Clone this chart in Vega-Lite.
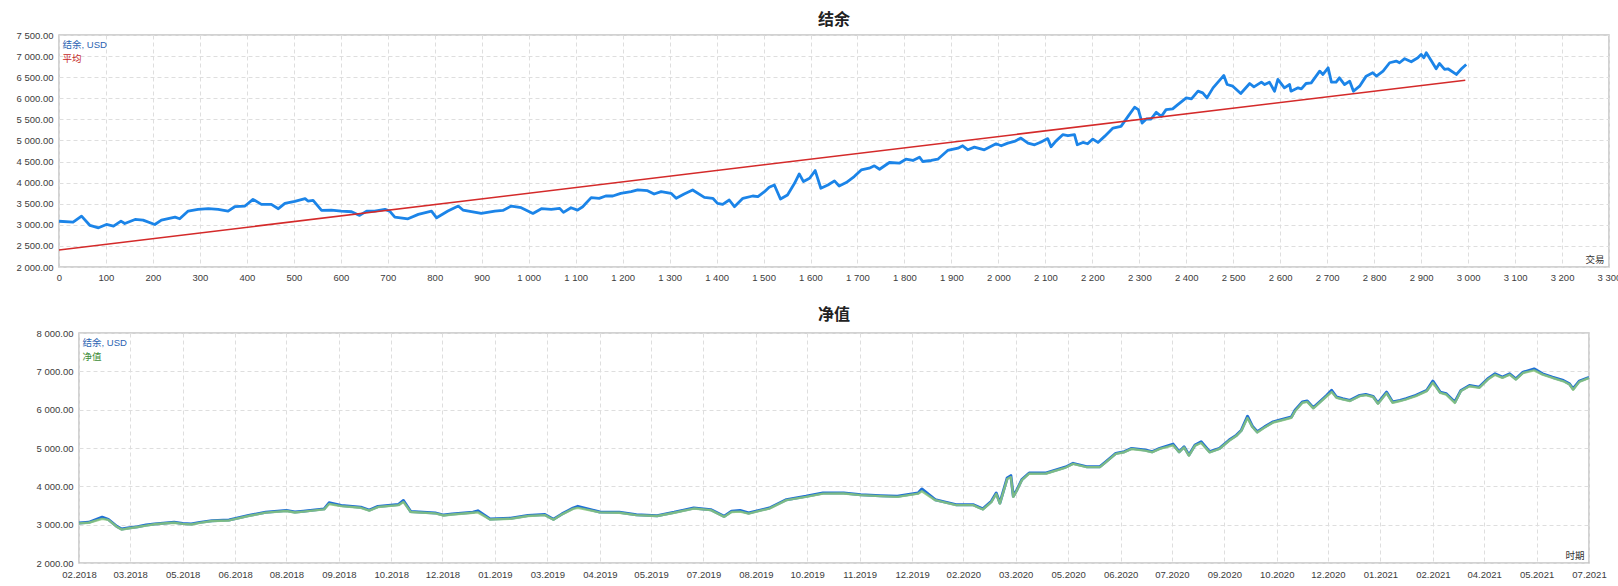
{
  "$schema": "https://vega.github.io/schema/vega-lite/v6.json",
  "padding": {"left": 15, "top": 11, "right": 0, "bottom": 0},
  "bounds": "flush",
  "center": true,
  "spacing": 66,
  "background": "white",
  "datasets": {
    "balance": [
      {"n": 0, "v": 3085}, {"n": 30, "v": 3064}, {"n": 48, "v": 3207}, {"n": 66, "v": 2985}, {"n": 84, "v": 2929},
      {"n": 101, "v": 3008}, {"n": 116, "v": 2969}, {"n": 132, "v": 3088}, {"n": 140, "v": 3032}, {"n": 162, "v": 3127},
      {"n": 179, "v": 3111}, {"n": 204, "v": 3008}, {"n": 218, "v": 3111}, {"n": 247, "v": 3183}, {"n": 257, "v": 3143},
      {"n": 275, "v": 3326}, {"n": 296, "v": 3366}, {"n": 318, "v": 3382}, {"n": 339, "v": 3366}, {"n": 360, "v": 3326},
      {"n": 374, "v": 3429}, {"n": 396, "v": 3445}, {"n": 413, "v": 3604}, {"n": 431, "v": 3485}, {"n": 452, "v": 3485},
      {"n": 467, "v": 3382}, {"n": 481, "v": 3509}, {"n": 502, "v": 3556}, {"n": 524, "v": 3620}, {"n": 530, "v": 3564},
      {"n": 541, "v": 3580}, {"n": 559, "v": 3342}, {"n": 580, "v": 3350}, {"n": 601, "v": 3326}, {"n": 623, "v": 3310},
      {"n": 640, "v": 3223}, {"n": 655, "v": 3326}, {"n": 672, "v": 3326}, {"n": 694, "v": 3366}, {"n": 704, "v": 3326},
      {"n": 715, "v": 3183}, {"n": 743, "v": 3143}, {"n": 765, "v": 3247}, {"n": 793, "v": 3326}, {"n": 804, "v": 3167},
      {"n": 828, "v": 3326}, {"n": 850, "v": 3445}, {"n": 860, "v": 3350}, {"n": 899, "v": 3270}, {"n": 928, "v": 3326},
      {"n": 945, "v": 3342}, {"n": 963, "v": 3445}, {"n": 984, "v": 3405}, {"n": 1009, "v": 3270}, {"n": 1027, "v": 3382},
      {"n": 1048, "v": 3366}, {"n": 1066, "v": 3390}, {"n": 1074, "v": 3294}, {"n": 1090, "v": 3405}, {"n": 1104, "v": 3350},
      {"n": 1115, "v": 3429}, {"n": 1133, "v": 3644}, {"n": 1150, "v": 3628}, {"n": 1164, "v": 3683}, {"n": 1179, "v": 3683},
      {"n": 1196, "v": 3747}, {"n": 1218, "v": 3786}, {"n": 1232, "v": 3826}, {"n": 1253, "v": 3810}, {"n": 1267, "v": 3731},
      {"n": 1282, "v": 3786}, {"n": 1303, "v": 3747}, {"n": 1314, "v": 3628}, {"n": 1331, "v": 3731}, {"n": 1349, "v": 3826},
      {"n": 1374, "v": 3652}, {"n": 1392, "v": 3628}, {"n": 1402, "v": 3509}, {"n": 1413, "v": 3485}, {"n": 1427, "v": 3588},
      {"n": 1438, "v": 3429}, {"n": 1456, "v": 3628}, {"n": 1477, "v": 3683}, {"n": 1488, "v": 3667}, {"n": 1502, "v": 3786},
      {"n": 1512, "v": 3890}, {"n": 1523, "v": 3945}, {"n": 1536, "v": 3612}, {"n": 1551, "v": 3707}, {"n": 1566, "v": 3985},
      {"n": 1576, "v": 4207}, {"n": 1585, "v": 4025}, {"n": 1598, "v": 4104}, {"n": 1610, "v": 4286}, {"n": 1622, "v": 3866},
      {"n": 1637, "v": 3945}, {"n": 1651, "v": 4041}, {"n": 1661, "v": 3921}, {"n": 1676, "v": 4001}, {"n": 1693, "v": 4144},
      {"n": 1708, "v": 4302}, {"n": 1725, "v": 4342}, {"n": 1736, "v": 4398}, {"n": 1747, "v": 4318}, {"n": 1768, "v": 4477},
      {"n": 1789, "v": 4461}, {"n": 1803, "v": 4556}, {"n": 1818, "v": 4525}, {"n": 1832, "v": 4604}, {"n": 1839, "v": 4501},
      {"n": 1857, "v": 4525}, {"n": 1871, "v": 4556}, {"n": 1892, "v": 4763}, {"n": 1914, "v": 4818}, {"n": 1924, "v": 4874},
      {"n": 1935, "v": 4779}, {"n": 1949, "v": 4842}, {"n": 1970, "v": 4779}, {"n": 1995, "v": 4921}, {"n": 2006, "v": 4874},
      {"n": 2020, "v": 4937}, {"n": 2034, "v": 4977}, {"n": 2048, "v": 5056}, {"n": 2063, "v": 4937}, {"n": 2077, "v": 4897},
      {"n": 2091, "v": 4965}, {"n": 2105, "v": 5044}, {"n": 2112, "v": 4850}, {"n": 2123, "v": 4990}, {"n": 2137, "v": 5136},
      {"n": 2148, "v": 5112}, {"n": 2162, "v": 5136}, {"n": 2168, "v": 4898}, {"n": 2180, "v": 4953}, {"n": 2190, "v": 4922},
      {"n": 2201, "v": 5033}, {"n": 2212, "v": 4953}, {"n": 2226, "v": 5096}, {"n": 2244, "v": 5295}, {"n": 2261, "v": 5334},
      {"n": 2276, "v": 5572}, {"n": 2290, "v": 5787}, {"n": 2298, "v": 5731}, {"n": 2306, "v": 5413}, {"n": 2315, "v": 5509},
      {"n": 2325, "v": 5509}, {"n": 2336, "v": 5668}, {"n": 2347, "v": 5572}, {"n": 2357, "v": 5731}, {"n": 2371, "v": 5747},
      {"n": 2382, "v": 5850}, {"n": 2400, "v": 6009}, {"n": 2411, "v": 5985}, {"n": 2425, "v": 6168}, {"n": 2435, "v": 6128},
      {"n": 2444, "v": 6009}, {"n": 2457, "v": 6247}, {"n": 2480, "v": 6541}, {"n": 2487, "v": 6326}, {"n": 2499, "v": 6287},
      {"n": 2516, "v": 6112}, {"n": 2535, "v": 6350}, {"n": 2544, "v": 6271}, {"n": 2560, "v": 6382}, {"n": 2567, "v": 6326},
      {"n": 2577, "v": 6382}, {"n": 2588, "v": 6168}, {"n": 2595, "v": 6446}, {"n": 2609, "v": 6247}, {"n": 2620, "v": 6326},
      {"n": 2623, "v": 6168}, {"n": 2638, "v": 6247}, {"n": 2645, "v": 6223}, {"n": 2655, "v": 6350}, {"n": 2666, "v": 6366},
      {"n": 2684, "v": 6644}, {"n": 2691, "v": 6565}, {"n": 2702, "v": 6723}, {"n": 2709, "v": 6382}, {"n": 2719, "v": 6382},
      {"n": 2726, "v": 6485}, {"n": 2737, "v": 6326}, {"n": 2748, "v": 6406}, {"n": 2756, "v": 6168}, {"n": 2769, "v": 6287},
      {"n": 2783, "v": 6525}, {"n": 2797, "v": 6604}, {"n": 2805, "v": 6525}, {"n": 2819, "v": 6644}, {"n": 2833, "v": 6842},
      {"n": 2847, "v": 6882}, {"n": 2854, "v": 6842}, {"n": 2865, "v": 6938}, {"n": 2879, "v": 6866}, {"n": 2893, "v": 6961},
      {"n": 2900, "v": 7041}, {"n": 2906, "v": 6961}, {"n": 2911, "v": 7080}, {"n": 2922, "v": 6882}, {"n": 2932, "v": 6699},
      {"n": 2939, "v": 6826}, {"n": 2950, "v": 6683}, {"n": 2957, "v": 6699}, {"n": 2975, "v": 6565}, {"n": 2986, "v": 6699},
      {"n": 2996, "v": 6803}
    ],
    "average": [
      {"n": 0, "v": 2405}, {"n": 2994, "v": 6430}
    ],
    "equity": [
      {"d": "2018-02-12", "b": 3044, "e": 3035}, {"d": "2018-02-20", "b": 3061, "e": 3050},
      {"d": "2018-03-03", "b": 3193, "e": 3150}, {"d": "2018-03-08", "b": 3140, "e": 3125},
      {"d": "2018-03-15", "b": 2956, "e": 2945}, {"d": "2018-03-19", "b": 2886, "e": 2870},
      {"d": "2018-03-24", "b": 2912, "e": 2900}, {"d": "2018-04-01", "b": 2947, "e": 2940},
      {"d": "2018-04-08", "b": 2990, "e": 2975}, {"d": "2018-04-15", "b": 3018, "e": 3010},
      {"d": "2018-04-22", "b": 3040, "e": 3030}, {"d": "2018-05-01", "b": 3061, "e": 3050},
      {"d": "2018-05-08", "b": 3030, "e": 3020}, {"d": "2018-05-15", "b": 3018, "e": 3005},
      {"d": "2018-05-22", "b": 3060, "e": 3045}, {"d": "2018-06-01", "b": 3105, "e": 3095},
      {"d": "2018-06-15", "b": 3123, "e": 3110}, {"d": "2018-07-01", "b": 3237, "e": 3225},
      {"d": "2018-07-15", "b": 3324, "e": 3315}, {"d": "2018-08-01", "b": 3368, "e": 3355},
      {"d": "2018-08-08", "b": 3330, "e": 3318}, {"d": "2018-08-15", "b": 3351, "e": 3340},
      {"d": "2018-09-01", "b": 3412, "e": 3400}, {"d": "2018-09-05", "b": 3570, "e": 3540},
      {"d": "2018-09-15", "b": 3500, "e": 3485}, {"d": "2018-10-01", "b": 3456, "e": 3440},
      {"d": "2018-10-08", "b": 3380, "e": 3365}, {"d": "2018-10-15", "b": 3474, "e": 3460},
      {"d": "2018-11-01", "b": 3526, "e": 3510}, {"d": "2018-11-05", "b": 3631, "e": 3590},
      {"d": "2018-11-11", "b": 3342, "e": 3330}, {"d": "2018-12-01", "b": 3307, "e": 3295},
      {"d": "2018-12-08", "b": 3250, "e": 3240}, {"d": "2018-12-15", "b": 3281, "e": 3265},
      {"d": "2019-01-01", "b": 3324, "e": 3310}, {"d": "2019-01-05", "b": 3360, "e": 3320},
      {"d": "2019-01-15", "b": 3149, "e": 3135}, {"d": "2019-02-01", "b": 3167, "e": 3155},
      {"d": "2019-02-15", "b": 3237, "e": 3225}, {"d": "2019-03-01", "b": 3263, "e": 3250},
      {"d": "2019-03-08", "b": 3140, "e": 3130}, {"d": "2019-03-15", "b": 3281, "e": 3270},
      {"d": "2019-03-24", "b": 3430, "e": 3410}, {"d": "2019-03-28", "b": 3478, "e": 3440},
      {"d": "2019-04-15", "b": 3330, "e": 3320}, {"d": "2019-05-01", "b": 3322, "e": 3310},
      {"d": "2019-05-15", "b": 3261, "e": 3250}, {"d": "2019-06-01", "b": 3235, "e": 3225},
      {"d": "2019-06-15", "b": 3322, "e": 3310}, {"d": "2019-07-01", "b": 3435, "e": 3420},
      {"d": "2019-07-15", "b": 3391, "e": 3380}, {"d": "2019-07-26", "b": 3217, "e": 3205},
      {"d": "2019-08-01", "b": 3348, "e": 3330}, {"d": "2019-08-08", "b": 3370, "e": 3340},
      {"d": "2019-08-15", "b": 3304, "e": 3290}, {"d": "2019-09-01", "b": 3435, "e": 3420},
      {"d": "2019-09-15", "b": 3652, "e": 3640}, {"d": "2019-10-01", "b": 3739, "e": 3725},
      {"d": "2019-10-15", "b": 3826, "e": 3810}, {"d": "2019-11-01", "b": 3826, "e": 3812},
      {"d": "2019-11-15", "b": 3783, "e": 3770}, {"d": "2019-12-01", "b": 3757, "e": 3745},
      {"d": "2019-12-15", "b": 3739, "e": 3725}, {"d": "2020-01-01", "b": 3826, "e": 3810},
      {"d": "2020-01-04", "b": 3930, "e": 3870}, {"d": "2020-01-15", "b": 3652, "e": 3640},
      {"d": "2020-02-01", "b": 3522, "e": 3510}, {"d": "2020-02-15", "b": 3522, "e": 3510},
      {"d": "2020-02-23", "b": 3409, "e": 3395}, {"d": "2020-03-01", "b": 3609, "e": 3590},
      {"d": "2020-03-05", "b": 3826, "e": 3800}, {"d": "2020-03-08", "b": 3565, "e": 3550},
      {"d": "2020-03-14", "b": 4217, "e": 4190}, {"d": "2020-03-17", "b": 4278, "e": 4240},
      {"d": "2020-03-19", "b": 3739, "e": 3725}, {"d": "2020-03-22", "b": 3913, "e": 3895},
      {"d": "2020-03-26", "b": 4174, "e": 4160}, {"d": "2020-04-01", "b": 4348, "e": 4330},
      {"d": "2020-04-15", "b": 4348, "e": 4335}, {"d": "2020-05-01", "b": 4504, "e": 4490},
      {"d": "2020-05-07", "b": 4600, "e": 4585}, {"d": "2020-05-18", "b": 4514, "e": 4500},
      {"d": "2020-05-29", "b": 4514, "e": 4500}, {"d": "2020-06-03", "b": 4644, "e": 4630},
      {"d": "2020-06-11", "b": 4860, "e": 4845}, {"d": "2020-06-18", "b": 4903, "e": 4890},
      {"d": "2020-06-24", "b": 4990, "e": 4975}, {"d": "2020-07-05", "b": 4946, "e": 4930},
      {"d": "2020-07-11", "b": 4903, "e": 4890}, {"d": "2020-07-17", "b": 4990, "e": 4975},
      {"d": "2020-07-28", "b": 5102, "e": 5070}, {"d": "2020-08-02", "b": 4903, "e": 4890},
      {"d": "2020-08-06", "b": 5033, "e": 5015}, {"d": "2020-08-10", "b": 4817, "e": 4800},
      {"d": "2020-08-15", "b": 5076, "e": 5060}, {"d": "2020-08-20", "b": 5162, "e": 5130},
      {"d": "2020-08-27", "b": 4903, "e": 4885}, {"d": "2020-09-04", "b": 4990, "e": 4975},
      {"d": "2020-09-12", "b": 5206, "e": 5190}, {"d": "2020-09-18", "b": 5335, "e": 5320},
      {"d": "2020-09-22", "b": 5465, "e": 5450}, {"d": "2020-09-27", "b": 5828, "e": 5780},
      {"d": "2020-10-01", "b": 5568, "e": 5550}, {"d": "2020-10-05", "b": 5422, "e": 5405},
      {"d": "2020-10-11", "b": 5551, "e": 5535}, {"d": "2020-10-18", "b": 5681, "e": 5665},
      {"d": "2020-10-23", "b": 5724, "e": 5705}, {"d": "2020-11-02", "b": 5810, "e": 5790},
      {"d": "2020-11-05", "b": 5983, "e": 5960}, {"d": "2020-11-11", "b": 6199, "e": 6180},
      {"d": "2020-11-15", "b": 6225, "e": 6205}, {"d": "2020-11-20", "b": 6052, "e": 6035},
      {"d": "2020-11-25", "b": 6199, "e": 6180}, {"d": "2020-12-01", "b": 6372, "e": 6350},
      {"d": "2020-12-05", "b": 6502, "e": 6460}, {"d": "2020-12-09", "b": 6329, "e": 6310},
      {"d": "2020-12-14", "b": 6286, "e": 6270}, {"d": "2020-12-20", "b": 6242, "e": 6225},
      {"d": "2020-12-28", "b": 6372, "e": 6355}, {"d": "2021-01-02", "b": 6398, "e": 6380},
      {"d": "2021-01-08", "b": 6346, "e": 6330}, {"d": "2021-01-12", "b": 6173, "e": 6155},
      {"d": "2021-01-19", "b": 6458, "e": 6430}, {"d": "2021-01-24", "b": 6199, "e": 6180},
      {"d": "2021-01-30", "b": 6242, "e": 6225}, {"d": "2021-02-04", "b": 6286, "e": 6270},
      {"d": "2021-02-12", "b": 6372, "e": 6355}, {"d": "2021-02-21", "b": 6502, "e": 6485},
      {"d": "2021-02-26", "b": 6744, "e": 6700}, {"d": "2021-03-04", "b": 6458, "e": 6440},
      {"d": "2021-03-09", "b": 6415, "e": 6395}, {"d": "2021-03-16", "b": 6199, "e": 6175},
      {"d": "2021-03-21", "b": 6502, "e": 6485}, {"d": "2021-03-28", "b": 6631, "e": 6610},
      {"d": "2021-04-05", "b": 6588, "e": 6570}, {"d": "2021-04-12", "b": 6804, "e": 6785},
      {"d": "2021-04-18", "b": 6934, "e": 6910}, {"d": "2021-04-24", "b": 6847, "e": 6830},
      {"d": "2021-04-30", "b": 6934, "e": 6915}, {"d": "2021-05-05", "b": 6804, "e": 6785},
      {"d": "2021-05-11", "b": 6977, "e": 6960}, {"d": "2021-05-20", "b": 7063, "e": 7025},
      {"d": "2021-05-27", "b": 6934, "e": 6915}, {"d": "2021-06-04", "b": 6847, "e": 6830},
      {"d": "2021-06-13", "b": 6761, "e": 6740}, {"d": "2021-06-18", "b": 6674, "e": 6655},
      {"d": "2021-06-21", "b": 6545, "e": 6520}, {"d": "2021-06-26", "b": 6744, "e": 6725},
      {"d": "2021-07-03", "b": 6830, "e": 6815}, {"d": "2021-07-04", "b": 6840, "e": 6825}
    ]
  },
  "resolve": {"scale": {"color": "independent", "x": "independent", "y": "independent"}, "legend": {"color": "independent"}},
  "vconcat": [
    {
      "width": 1550,
      "height": 232,
      "title": {"text": "结余", "offset": 2},
      "encoding": {
        "x": {
          "field": "n",
          "type": "quantitative",
          "scale": {"domain": [0, 3300], "nice": false},
          "axis": {
            "values": [0, 100, 200, 300, 400, 500, 600, 700, 800, 900, 1000, 1100, 1200, 1300, 1400, 1500, 1600, 1700, 1800, 1900, 2000, 2100, 2200, 2300, 2400, 2500, 2600, 2700, 2800, 2900, 3000, 3100, 3200, 3300],
            "format": ",d",
            "labelPadding": 5,
            "title": "交易",
            "titleAnchor": "end",
            "titleAlign": "right",
            "titleBaseline": "bottom",
            "titleX": 1545,
            "titleY": -3
          }
        },
        "y": {
          "field": "v",
          "type": "quantitative",
          "scale": {"domain": [2000, 7500], "nice": false},
          "axis": {"values": [2000, 2500, 3000, 3500, 4000, 4500, 5000, 5500, 6000, 6500, 7000, 7500], "format": ",.2f", "title": null, "labelPadding": 6}
        }
      },
      "layer": [
        {
          "data": {"name": "balance"},
          "mark": {"type": "line", "strokeWidth": 2.8, "strokeJoin": "round"},
          "encoding": {
            "color": {
              "datum": "结余, USD",
              "scale": {"domain": ["结余, USD", "平均"], "range": ["#1b84e8", "#d42a2a"]},
              "legend": {
                "orient": "top-left",
                "title": null,
                "offset": 5,
                "padding": 0,
                "symbolSize": 0,
                "symbolStrokeWidth": 0,
                "labelOffset": -11,
                "rowPadding": 3,
                "encode": {"labels": {"update": {"fill": {"signal": "datum.label === '平均' ? '#c62828' : '#2b63b2'"}}}}
              }
            }
          }
        },
        {
          "data": {"name": "average"},
          "mark": {"type": "line", "strokeWidth": 1.5},
          "encoding": {
            "color": {"datum": "平均"}
          }
        }
      ]
    },
    {
      "width": 1510,
      "height": 230,
      "title": {"text": "净值", "offset": 5},
      "data": {"name": "equity"},
      "encoding": {
        "x": {
          "field": "d",
          "type": "temporal",
          "scale": {"domain": [{"year": 2018, "month": 2, "date": 12}, {"year": 2021, "month": 7, "date": 4}]},
          "axis": {
            "values": [
              {"year": 2018, "month": 2, "date": 12}, {"year": 2018, "month": 3, "date": 26}, {"year": 2018, "month": 5, "date": 8},
              {"year": 2018, "month": 6, "date": 20}, {"year": 2018, "month": 8, "date": 1}, {"year": 2018, "month": 9, "date": 13},
              {"year": 2018, "month": 10, "date": 26}, {"year": 2018, "month": 12, "date": 7}, {"year": 2019, "month": 1, "date": 19},
              {"year": 2019, "month": 3, "date": 3}, {"year": 2019, "month": 4, "date": 15}, {"year": 2019, "month": 5, "date": 27},
              {"year": 2019, "month": 7, "date": 9}, {"year": 2019, "month": 8, "date": 21}, {"year": 2019, "month": 10, "date": 2},
              {"year": 2019, "month": 11, "date": 14}, {"year": 2019, "month": 12, "date": 27}, {"year": 2020, "month": 2, "date": 7},
              {"year": 2020, "month": 3, "date": 21}, {"year": 2020, "month": 5, "date": 3}, {"year": 2020, "month": 6, "date": 15},
              {"year": 2020, "month": 7, "date": 27}, {"year": 2020, "month": 9, "date": 8}, {"year": 2020, "month": 10, "date": 21},
              {"year": 2020, "month": 12, "date": 2}, {"year": 2021, "month": 1, "date": 14}, {"year": 2021, "month": 2, "date": 26},
              {"year": 2021, "month": 4, "date": 9}, {"year": 2021, "month": 5, "date": 22}, {"year": 2021, "month": 7, "date": 4}
            ],
            "format": "%m.%Y",
            "labelPadding": 6,
            "title": "时期",
            "titleAnchor": "end",
            "titleAlign": "right",
            "titleBaseline": "bottom",
            "titleX": 1505,
            "titleY": -3
          }
        },
        "y": {
          "type": "quantitative",
          "scale": {"domain": [2000, 8000], "nice": false},
          "axis": {"values": [2000, 3000, 4000, 5000, 6000, 7000, 8000], "format": ",.2f", "title": null, "labelPadding": 6}
        }
      },
      "layer": [
        {
          "mark": {"type": "line", "strokeWidth": 3, "strokeJoin": "round"},
          "encoding": {
            "y": {"field": "b"},
            "color": {
              "datum": "结余, USD",
              "scale": {"domain": ["结余, USD", "净值"], "range": ["#1f6fd6", "#8cc878"]},
              "legend": {
                "orient": "top-left",
                "title": null,
                "offset": 5,
                "padding": 0,
                "symbolSize": 0,
                "symbolStrokeWidth": 0,
                "labelOffset": -11,
                "rowPadding": 3,
                "encode": {"labels": {"update": {"fill": {"signal": "datum.label === '净值' ? '#3d8b37' : '#2b63b2'"}}}}
              }
            }
          }
        },
        {
          "mark": {"type": "line", "strokeWidth": 2.4, "strokeJoin": "round", "opacity": 0.85},
          "encoding": {
            "y": {"field": "e"},
            "color": {"datum": "净值"}
          }
        }
      ]
    }
  ],
  "config": {
    "locale": {"number": {"decimal": ".", "thousands": " ", "grouping": [3], "currency": ["$", ""]}},
    "view": {"stroke": "#c4c4c4", "strokeWidth": 1.5},
    "axis": {
      "grid": true,
      "gridColor": "#dedede",
      "gridDash": [4, 3],
      "domain": false,
      "ticks": false,
      "labelFont": "Liberation Sans",
      "labelFontSize": 9.5,
      "labelColor": "#3c3c3c",
      "labelFlush": false,
      "labelOverlap": false,
      "titleFont": "Noto Sans CJK SC",
      "titleFontSize": 9.5,
      "titleFontWeight": "normal",
      "titleColor": "#333333"
    },
    "legend": {
      "labelFont": "Liberation Sans, Noto Sans CJK SC",
      "labelFontSize": 9.5
    },
    "title": {"font": "Noto Sans CJK SC", "fontSize": 16, "fontWeight": "bold", "color": "#222222"}
  }
}
